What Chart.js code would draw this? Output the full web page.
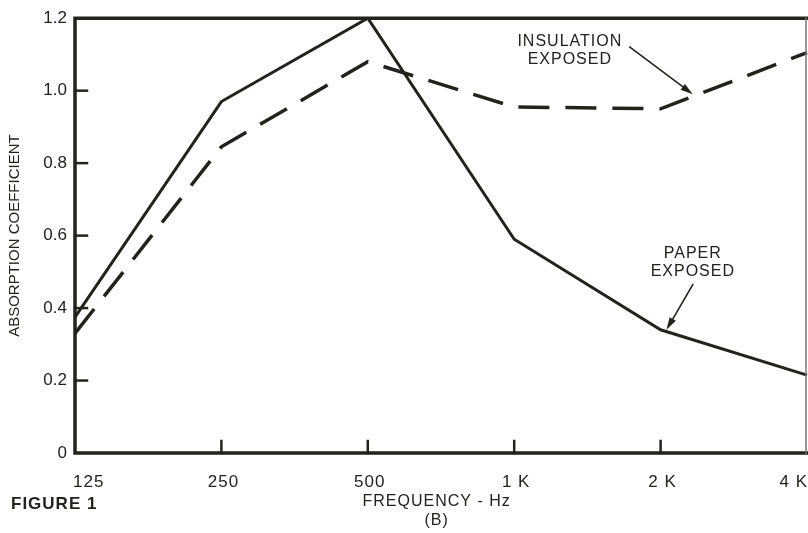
<!DOCTYPE html>
<html>
<head>
<meta charset="UTF-8">
<title>Absorption coefficient</title>
<script src="https://cdn.jsdelivr.net/npm/chart.js"></script>
<style>
    body { margin: 0; padding: 0; background: #fff; }
    .wrap { width: 808px; height: 533px; position: relative; }
</style>
</head>
<body>
<div class="wrap"><canvas id="chart"></canvas></div>
<script>
    const frequencies = ['125', '250', '500', '1 K', '2 K', '4 K'];
    const paperExposed = [0.375, 0.97, 1.20, 0.59, 0.34, 0.215];
    const insulationExposed = [0.33, 0.845, 1.08, 0.955, 0.95, 1.105];
    const yTicks = [0, 0.2, 0.4, 0.6, 0.8, 1.0, 1.2];

    const ink = '#23231d';
    const font = '"Liberation Sans", Arial, sans-serif';

    function arrow(ctx, x1, y1, x2, y2) {
        const a = Math.atan2(y2 - y1, x2 - x1);
        ctx.beginPath();
        ctx.moveTo(x1, y1);
        ctx.lineTo(x2 - 8 * Math.cos(a), y2 - 8 * Math.sin(a));
        ctx.stroke();
        ctx.beginPath();
        ctx.moveTo(x2, y2);
        ctx.lineTo(x2 - 13 * Math.cos(a - 0.28), y2 - 13 * Math.sin(a - 0.28));
        ctx.lineTo(x2 - 13 * Math.cos(a + 0.28), y2 - 13 * Math.sin(a + 0.28));
        ctx.closePath();
        ctx.fill();
    }

    // frame, inner ticks, x labels and the notes
    const extras = {
        id: 'extras',
        afterDraw(chart) {
            const { ctx, chartArea: ca, scales: { x, y } } = chart;
            ctx.save();
            ctx.strokeStyle = ink;
            ctx.fillStyle = ink;
            ctx.lineCap = 'square';

            ctx.lineWidth = 3.5;
            ctx.beginPath();
            ctx.moveTo(ca.right, ca.top);
            ctx.lineTo(ca.left, ca.top);
            ctx.lineTo(ca.left, ca.bottom);
            ctx.lineTo(ca.right, ca.bottom);
            ctx.stroke();
            ctx.lineWidth = 1.5;
            ctx.strokeStyle = '#777';
            ctx.beginPath();
            ctx.moveTo(ca.right - 1, ca.top);
            ctx.lineTo(ca.right - 1, ca.bottom);
            ctx.stroke();

            ctx.strokeStyle = ink;
            ctx.lineWidth = 2.5;
            yTicks.slice(1, -1).forEach(v => {
                const py = y.getPixelForValue(v);
                ctx.beginPath();
                ctx.moveTo(ca.left, py);
                ctx.lineTo(ca.left + 12, py);
                ctx.stroke();
            });
            frequencies.forEach((f, i) => {
                if (i === 0 || i === frequencies.length - 1) return;
                const px = x.getPixelForValue(i);
                ctx.beginPath();
                ctx.moveTo(px, ca.bottom);
                ctx.lineTo(px, ca.bottom - 12);
                ctx.stroke();
            });

            ctx.font = '17px ' + font;
            ctx.letterSpacing = '1px';
            ctx.textBaseline = 'middle';
            frequencies.forEach((f, i) => {
                const px = x.getPixelForValue(i);
                if (i === 0) { ctx.textAlign = 'left'; ctx.fillText(f, px - 2, ca.bottom + 29); }
                else if (i === frequencies.length - 1) { ctx.textAlign = 'right'; ctx.fillText(f, px + 1, ca.bottom + 29); }
                else { ctx.textAlign = 'center'; ctx.fillText(f, px + 2, ca.bottom + 29); }
            });

            ctx.font = '16px ' + font;
            ctx.textAlign = 'center';
            const cx = x.getPixelForValue(2.47);
            ctx.fillText('FREQUENCY - Hz', cx, ca.bottom + 49);
            ctx.fillText('(B)', cx, ca.bottom + 68);

            ctx.font = 'bold 17px ' + font;
            ctx.textAlign = 'left';
            ctx.fillText('FIGURE 1', 11, ca.bottom + 51);

            ctx.font = '16px ' + font;
            ctx.textAlign = 'center';
            const ix = x.getPixelForValue(3.38), iy = y.getPixelForValue(1.135);
            ctx.fillText('INSULATION', ix, iy);
            ctx.fillText('EXPOSED', ix, iy + 18);
            const px = x.getPixelForValue(4.22), py = y.getPixelForValue(0.55);
            ctx.fillText('PAPER', px, py);
            ctx.fillText('EXPOSED', px, py + 18);

            ctx.lineWidth = 1.6;
            arrow(ctx, x.getPixelForValue(3.79), y.getPixelForValue(1.12),
                       x.getPixelForValue(4.22), y.getPixelForValue(0.99));
            arrow(ctx, x.getPixelForValue(4.22), y.getPixelForValue(0.465),
                       x.getPixelForValue(4.04), y.getPixelForValue(0.34));
            ctx.restore();
        }
    };

    new Chart(document.getElementById('chart'), {
        type: 'line',
        data: {
            labels: frequencies,
            datasets: [
                {
                    label: 'Paper exposed',
                    data: paperExposed,
                    borderColor: ink,
                    borderWidth: 3,
                    pointRadius: 0,
                    tension: 0
                },
                {
                    label: 'Insulation exposed',
                    data: insulationExposed,
                    borderColor: ink,
                    borderWidth: 3.5,
                    borderDash: [31, 16],
                    pointRadius: 0,
                    tension: 0
                }
            ]
        },
        options: {
            responsive: true,
            maintainAspectRatio: false,
            animation: false,
            layout: { padding: { top: 14, right: 1, left: 0, bottom: 0 } },
            plugins: { legend: { display: false }, tooltip: { enabled: false } },
            scales: {
                x: {
                    offset: false,
                    grid: { display: false },
                    border: { display: false },
                    ticks: { display: false },
                    afterFit(scale) { scale.height = 80; }
                },
                y: {
                    min: 0,
                    max: 1.2,
                    grid: { display: false, drawTicks: false },
                    border: { display: false },
                    afterBuildTicks(scale) { scale.ticks = yTicks.map(v => ({ value: v })); },
                    ticks: {
                        color: ink,
                        padding: 8,
                        font: { family: font, size: 17 },
                        callback: v => v === 0 ? '0' : v.toFixed(1)
                    },
                    title: {
                        display: true,
                        text: 'ABSORPTION COEFFICIENT',
                        color: ink,
                        font: { family: font, size: 15 },
                        padding: { top: 6, bottom: 0 }
                    },
                    afterFit(scale) { scale.width = 75; }
                }
            }
        },
        plugins: [extras]
    });
</script>
</body>
</html>
